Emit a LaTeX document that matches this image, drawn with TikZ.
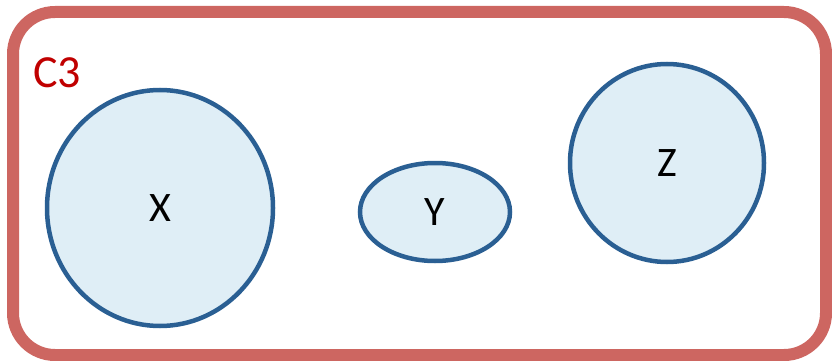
\documentclass[tikz,border=0pt]{standalone}
\usepackage{fontspec}
\setmainfont{Carlito}
\usetikzlibrary{shapes.geometric}
\definecolor{frame}{HTML}{CD6661}
\definecolor{edge}{HTML}{2A5F93}
\definecolor{fillb}{HTML}{DFEEF6}
\definecolor{lab}{HTML}{C00000}
\tikzset{
  blob/.style={ellipse, draw=edge, fill=fillb, line width=4.5pt, inner sep=0pt, font=\fontsize{42}{50}\selectfont},
}
\begin{document}
\begin{tikzpicture}[x=1pt,y=-1pt]
\useasboundingbox (0,0) rectangle (832,361);
\draw[frame, line width=12pt, rounded corners=42pt] (13,12) rectangle (826,355);
\node[text=lab, font=\fontsize{46}{54}\selectfont] (c3) at (57,73) {C3};
\node[blob, minimum width=226pt, minimum height=236pt] (x) at (160,208) {X};
\node[blob, minimum width=150pt, minimum height=98pt] (y) at (435,212) {Y};
\node[blob, minimum width=194pt, minimum height=198pt] (z) at (667,163) {Z};
\end{tikzpicture}
\end{document}
